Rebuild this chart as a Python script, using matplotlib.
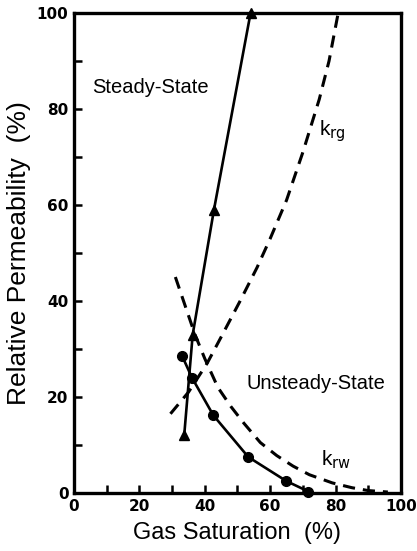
import numpy as np
import matplotlib
matplotlib.use("Agg")
import matplotlib.pyplot as plt
from matplotlib.ticker import MultipleLocator

plt.rcParams['font.family'] = ['Liberation Sans', 'DejaVu Sans']

# steady-state measurements (triangles)
ss_sg = [33.7, 36.3, 42.8, 54.0]
ss_kr = [12.0, 33.0, 59.0, 100.0]

# unsteady-state krw measurements (circles)
us_sg = [33.1, 36.1, 42.6, 53.3, 64.9, 71.7]
us_kr = [28.5, 24.0, 16.2, 7.5, 2.5, 0.3]

# dashed krg curve
krg_sg = [29.5, 35.0, 40.7, 45.0, 50.8, 56.0, 60.0, 65.0, 70.0, 75.0, 78.0, 80.8]
krg_kr = [16.5, 21.0, 27.0, 32.5, 40.0, 47.0, 53.0, 61.0, 71.0, 82.0, 90.0, 100.0]

# dashed krw curve
krw_sg = [31, 34, 37, 40, 44, 48, 52, 57, 62, 67, 72, 79, 85, 90, 96]
krw_kr = [45, 39, 33, 28, 22, 18, 14.5, 10.5, 7.8, 5.6, 3.8, 2.1, 1.1, 0.5, 0.2]

fig = plt.figure(figsize=(4.17, 5.51), dpi=100)
ax = fig.add_axes([0.1775, 0.1053, 0.784, 0.871])

ax.plot(krg_sg, krg_kr, color='black', lw=2.2, ls=(0, (4, 2.6)), clip_on=False)
ax.plot(krw_sg, krw_kr, color='black', lw=2.2, ls=(0, (4, 2.6)), clip_on=False)
ax.plot(ss_sg, ss_kr, color='black', lw=1.9, marker='^', ms=7, clip_on=False)
ax.plot(us_sg, us_kr, color='black', lw=1.9, marker='o', ms=7, clip_on=False)

ax.text(23.5, 84.5, 'Steady-State', fontsize=14.5, ha='center', va='center')
ax.text(74.0, 22.8, 'Unsteady-State', fontsize=14.5, ha='center', va='center')
ax.text(75.0, 75.5, r'k$_{\rm rg}$', fontsize=15, ha='left', va='center')
ax.text(75.5, 7.0, r'k$_{\rm rw}$', fontsize=15, ha='left', va='center')

ax.set_xlim(0, 100)
ax.set_ylim(0, 100)
ax.xaxis.set_major_locator(MultipleLocator(20))
ax.xaxis.set_minor_locator(MultipleLocator(10))
ax.yaxis.set_major_locator(MultipleLocator(20))
ax.yaxis.set_minor_locator(MultipleLocator(10))
ax.tick_params(which='both', direction='in', length=6, width=1.8)
ax.tick_params(which='major', pad=4)
for lab in ax.get_xticklabels() + ax.get_yticklabels():
    lab.set_fontfamily('DejaVu Sans')
    lab.set_fontweight('bold')
    lab.set_fontsize(11)
for s in ax.spines.values():
    s.set_linewidth(2.4)

ax.set_xlabel('Gas Saturation  (%)', fontsize=17, labelpad=6)
ax.set_ylabel('Relative Permeability  (%)', fontsize=19, labelpad=4)

fig.savefig('out.png', dpi=100)
